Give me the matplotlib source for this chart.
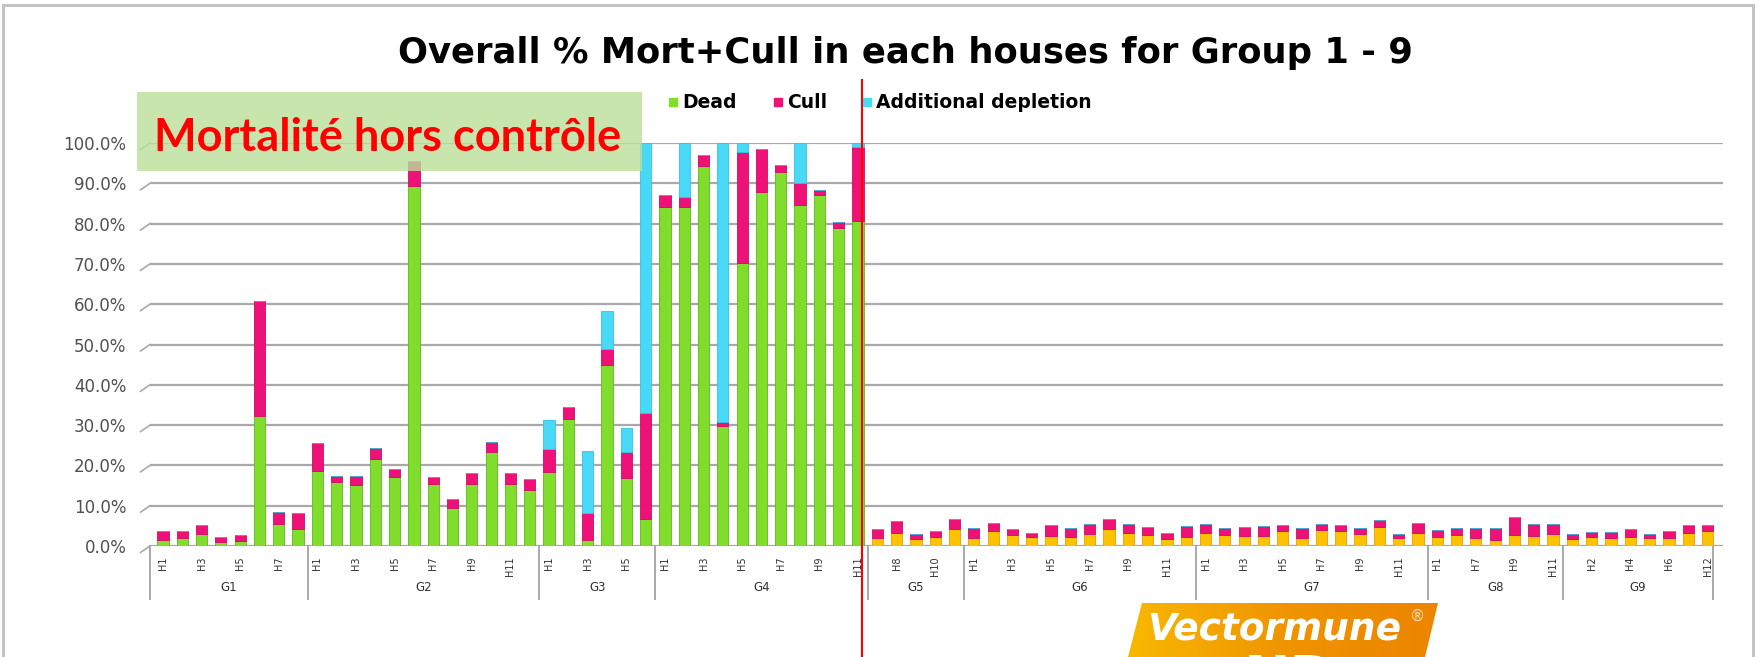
import numpy as np
import matplotlib
matplotlib.use("Agg")
import matplotlib.pyplot as plt
from matplotlib.patches import Rectangle, Polygon
from matplotlib.lines import Line2D
import matplotlib.transforms as mtransforms

W, H = 1759, 657

groups = ["G1", "G2", "G3", "G4", "G5", "G6", "G7", "G8", "G9"]
houses = [
    ["H1", "H2", "H3", "H4", "H5", "H6", "H7", "H8"],
    ["H1", "H2", "H3", "H4", "H5", "H6", "H7", "H8", "H9", "H10", "H11", "H12"],
    ["H1", "H2", "H3", "H4", "H5", "H6"],
    ["H1", "H2", "H3", "H4", "H5", "H6", "H7", "H8", "H9", "H10", "H11"],
    ["H7", "H8", "H9", "H10", "H11"],
    ["H1", "H2", "H3", "H4", "H5", "H6", "H7", "H8", "H9", "H10", "H11", "H12"],
    ["H1", "H2", "H3", "H4", "H5", "H6", "H7", "H8", "H9", "H10", "H11", "H12"],
    ["H1", "H6", "H7", "H8", "H9", "H10", "H11"],
    ["H1", "H2", "H3", "H4", "H5", "H6", "H11", "H12"],
]

# % per house, one row per group
dead = [
    1.4, 1.9, 3.1, 1.0, 1.2, 32.2, 5.5, 4.1,
    18.6, 15.9, 15.1, 21.7, 17.2, 89.3, 15.3, 9.5, 15.5, 23.3, 15.3, 14.0,
    18.3, 31.6, 1.5, 44.8, 16.9, 6.6,
    84.1, 84.0, 94.2, 29.8, 70.1, 87.8, 92.7, 84.7, 87.2, 78.8, 80.6,
    2.1, 3.3, 1.8, 2.2, 4.1,
    2.1, 3.7, 2.8, 2.2, 2.5, 2.3, 3.1, 4.3, 3.3, 2.7, 1.7, 2.3,
    3.3, 2.7, 2.5, 2.5, 3.6, 2.0, 4.0, 3.7, 3.1, 4.8, 1.9, 3.3,
    2.3, 2.8, 2.1, 1.5, 2.8, 2.5, 2.9,
    1.8, 2.3, 2.1, 2.3, 2.0, 2.1, 3.3, 3.6,
]
cull = [
    2.2, 1.7, 2.2, 1.3, 1.6, 28.5, 2.9, 4.0,
    7.0, 1.5, 2.3, 2.7, 2.0, 6.2, 1.9, 2.2, 2.5, 2.5, 2.9, 2.7,
    5.7, 2.9, 6.8, 4.0, 6.5, 26.3,
    3.0, 2.6, 2.8, 0.9, 27.7, 10.7, 1.8, 5.4, 1.2, 1.5, 18.4,
    2.0, 2.9, 1.3, 1.5, 2.7,
    2.4, 1.9, 1.5, 1.1, 2.8, 2.2, 2.4, 2.5, 2.2, 2.1, 1.6, 2.7,
    2.2, 1.7, 2.3, 2.5, 1.5, 2.5, 1.4, 1.4, 1.4, 1.6, 1.2, 2.5,
    1.7, 1.6, 2.4, 3.0, 4.4, 2.9, 2.6,
    1.3, 1.2, 1.4, 2.0, 1.1, 1.5, 1.8, 1.5,
]
extra = [
    0, 0, 0, 0, 0, 0, 0, 0,
    0, 0, 0, 0, 0, 0, 0, 0, 0, 0, 0, 0,
    7.2, 0, 15.3, 9.5, 5.9, 67.1,
    0, 13.4, 0, 69.3, 2.2, 0, 0, 9.9, 0, 0, 1.0,
    0, 0, 0, 0, 0,
    0, 0, 0, 0, 0, 0, 0, 0, 0, 0, 0, 0,
    0, 0, 0, 0, 0, 0, 0, 0, 0, 0, 0, 0,
    0, 0, 0, 0, 0, 0, 0,
    0, 0, 0, 0, 0, 0, 0, 0,
]

GREEN = "#80dd2c"
GOLD = "#ffc200"
PINK = "#ee1278"
CYAN = "#47d9f6"


def fx(px):
    return px / W


def fy(py):
    return 1 - py / H


fig = plt.figure(figsize=(W / 100, H / 100), dpi=100)
ax = fig.add_axes([fx(150), fy(546), fx(1723) - fx(150), fy(143) - fy(546)])

sizes = [len(h) for h in houses]
labels = [h for hs in houses for h in hs]
gidx = np.repeat(np.arange(len(groups)), sizes)
x = np.arange(len(labels))
dead = np.array(dead)
cull = np.array(cull)
extra = np.array(extra)

dead_col = [GREEN if g < 4 else GOLD for g in gidx]
dead_edge = ["#5fb81a" if g < 4 else "#e8a000" for g in gidx]
bw = 0.58
ax.bar(x, dead, bw, color=dead_col, edgecolor=dead_edge, lw=0.6, zorder=3)
ax.bar(x, cull, bw, bottom=dead, color=PINK, edgecolor="#d00a66", lw=0.6, zorder=3)
ax.bar(x, extra, bw, bottom=dead + cull, color=CYAN, edgecolor="#2fc4e6",
       lw=0.6, zorder=3)

ax.set_ylim(0, 100)
ax.set_xlim(-0.67, 80.8)
ax.set_yticks(np.arange(0, 101, 10))
ax.set_yticklabels(["%.1f%%" % v for v in np.arange(0, 101, 10)],
                   fontsize=12, color="#505050")
ax.tick_params(axis="y", length=0, pad=17)
ax.tick_params(axis="x", length=0)
ax.set_xticks([])
ax.yaxis.grid(True, color="#a9a9a9", lw=1.6, zorder=0)
for s in ax.spines.values():
    s.set_visible(False)

# small 3D stubs at the left of gridlines
tr = mtransforms.blended_transform_factory(ax.transAxes, ax.transData)
for v in np.arange(0, 101, 10):
    ax.plot([-0.006, 0.0], [v - 1.6, v], color="#a9a9a9", lw=1.2,
            transform=tr, clip_on=False)

# category axis: house labels (every other one) and groups
for i, lab in enumerate(labels):
    if i % 2 == 0:
        ax.text(i, -2.6, lab, rotation=90, ha="center", va="top",
                fontsize=7, color="#303030")
bounds = np.concatenate([[0], np.cumsum(sizes)])
edges = [-0.67] + list(bounds[1:-1] - 0.5) + [80.3]
for e in edges:
    ax.plot([e, e], [0, -13.2], color="#a9a9a9", lw=1.4, clip_on=False)
for k, g in enumerate(groups):
    ax.text((edges[k] + edges[k + 1]) / 2, -10.3, g, ha="center", va="center",
            fontsize=8.5, color="#303030")

# outer frame
fig.add_artist(Rectangle((fx(3), fy(660)), fx(1750), fy(5) - fy(660), fill=False,
                         edgecolor="#c4c4c4", lw=2.2, transform=fig.transFigure))

# title
fig.text(fx(905), fy(53), "Overall % Mort+Cull in each houses for Group 1 - 9",
         ha="center", va="center", fontsize=25.5, fontweight="bold", color="black")

# legend
for sx, name, col in [(673, "Dead", GREEN), (778, "Cull", PINK),
                      (867, "Additional depletion", CYAN)]:
    fig.add_artist(Rectangle((fx(sx - 4), fy(106)), fx(8), fy(98) - fy(106),
                             color=col, transform=fig.transFigure))
    fig.text(fx(sx + 9), fy(102), name, ha="left", va="center", fontsize=13.5,
             fontweight="bold", color="black")

# highlight box
fig.add_artist(Rectangle((fx(137), fy(171)), fx(505), fy(92) - fy(171),
                         facecolor="#bcdf9a", alpha=0.8, edgecolor="none",
                         transform=fig.transFigure, zorder=10))
fig.text(fx(388), fy(151), "Mortalité hors contrôle", ha="center", va="baseline",
         fontsize=32.5, fontweight="bold", color="#ff0000", family="Lato", zorder=11)

# red separator line
fig.add_artist(Line2D([fx(862), fx(862)], [fy(80), fy(657)], color="#ff0000",
                      lw=1.5, transform=fig.transFigure, zorder=12))

# Vectormune logo
lax = fig.add_axes([fx(1128), fy(657), fx(310), fy(603) - fy(657)])
lax.set_xlim(1128, 1438)
lax.set_ylim(657, 603)
lax.axis("off")
grad = np.linspace(0, 1, 256).reshape(1, -1)
cmap = matplotlib.colors.LinearSegmentedColormap.from_list(
    "vm", ["#f8b800", "#f09400", "#ec8400"])
im = lax.imshow(grad, extent=[1128, 1438, 657, 603], cmap=cmap, aspect="auto")
poly = Polygon([(1142, 603), (1438, 603), (1425, 657), (1128, 657)],
               closed=True, transform=lax.transData, facecolor="none", edgecolor="none")
lax.add_patch(poly)
im.set_clip_path(poly)
lax.text(1274, 630, "Vectormune", ha="center", va="center", fontsize=27,
         fontweight="bold", style="italic", color="white", family="DejaVu Sans")
lax.text(1417, 616, "\u00ae", ha="center", va="center", fontsize=11,
         color="#fde0b0")
t = lax.text(1290, 653, "ND", ha="center", va="top", fontsize=40,
             fontweight="bold", color="white")
t.set_clip_path(poly)

fig.savefig("out.png", dpi=100)
